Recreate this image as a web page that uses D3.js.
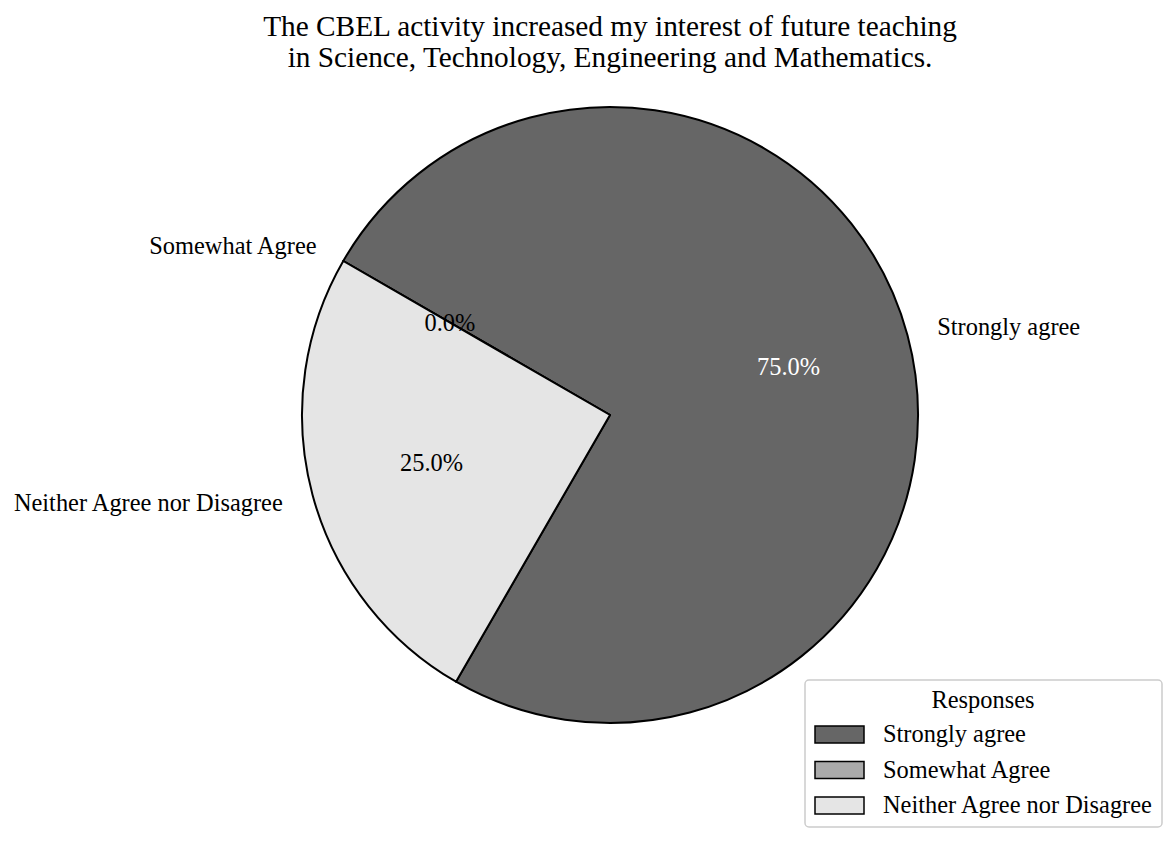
<!DOCTYPE html>
<html>
<head>
<meta charset="utf-8">
<script src="https://cdn.jsdelivr.net/npm/d3@7"></script>
<style>
  body { margin: 0; background: #fff; }
  svg text { font-family: "Liberation Serif", "Times New Roman", serif; }
</style>
</head>
<body>
<div id="chart"></div>
<script>
const categories = ["Strongly agree", "Somewhat Agree", "Neither Agree nor Disagree"];
const values = [75, 0, 25];
const colors = ["#666666", "#aaaaaa", "#e5e5e5"];
const titleLines = [
  "The CBEL activity increased my interest of future teaching",
  "in Science, Technology, Engineering and Mathematics."
];

const width = 1176, height = 842;
const cx = 610, cy = 415, radius = 308;

const svg = d3.select("#chart").append("svg")
  .attr("width", width)
  .attr("height", height);

svg.append("g").selectAll("text")
  .data(titleLines)
  .enter().append("text")
    .attr("x", cx)
    .attr("y", (d, i) => 36 + i * 31)
    .attr("text-anchor", "middle")
    .style("font-size", "29.3px")
    .style("fill", "#000")
    .text(d => d);

// matplotlib startangle=240, counterclockwise -> d3 angle -150deg going negative
const start = -150 * Math.PI / 180;
const pie = d3.pie().sort(null).value(d => d)
  .startAngle(start).endAngle(start - 2 * Math.PI);
const arcs = pie(values);

const arc = d3.arc().innerRadius(0).outerRadius(radius);

const g = svg.append("g").attr("transform", `translate(${cx},${cy})`);

g.selectAll("path.slice")
  .data(arcs)
  .enter().append("path")
    .attr("class", "slice")
    .attr("d", arc)
    .attr("fill", (d, i) => colors[i])
    .attr("stroke", "#000")
    .attr("stroke-width", 2)
    .attr("stroke-linejoin", "round");

const mid = d => (d.startAngle + d.endAngle) / 2;

// category labels at 1.1 r
g.selectAll("text.lbl")
  .data(arcs)
  .enter().append("text")
    .attr("class", "lbl")
    .attr("x", d => Math.sin(mid(d)) * radius * 1.1)
    .attr("y", d => -Math.cos(mid(d)) * radius * 1.1)
    .attr("dy", "0.33em")
    .attr("text-anchor", d => Math.sin(mid(d)) >= 0 ? "start" : "end")
    .style("font-size", "24.4px")
    .style("fill", "#000")
    .text((d, i) => categories[i]);

// percentages at 0.6 r
const total = d3.sum(values);
g.selectAll("text.pct")
  .data(arcs)
  .enter().append("text")
    .attr("class", "pct")
    .attr("x", d => Math.sin(mid(d)) * radius * 0.6)
    .attr("y", d => -Math.cos(mid(d)) * radius * 0.6)
    .attr("dy", "0.33em")
    .attr("text-anchor", "middle")
    .style("font-size", "24.4px")
    .style("fill", (d, i) => i === 0 ? "#fff" : "#000")
    .text(d => (d.value / total * 100).toFixed(1) + "%");

// legend
const lg = svg.append("g").attr("transform", "translate(805,680)");
lg.append("rect")
  .attr("width", 357).attr("height", 147)
  .attr("rx", 4).attr("ry", 4)
  .attr("fill", "#fff")
  .attr("stroke", "#cccccc")
  .attr("stroke-width", 1.5);
lg.append("text")
  .attr("x", 178).attr("y", 20)
  .attr("dy", "0.33em")
  .attr("text-anchor", "middle")
  .style("font-size", "24.4px")
  .text("Responses");
const items = lg.selectAll("g.item")
  .data(categories)
  .enter().append("g")
    .attr("class", "item")
    .attr("transform", (d, i) => `translate(0,${54 + i * 35.5})`);
items.append("rect")
  .attr("x", 10).attr("y", -8)
  .attr("width", 49).attr("height", 17)
  .attr("fill", (d, i) => colors[i])
  .attr("stroke", "#000")
  .attr("stroke-width", 1.5);
items.append("text")
  .attr("x", 78).attr("y", 0)
  .attr("dy", "0.33em")
  .style("font-size", "24.4px")
  .text(d => d);
</script>
</body>
</html>
